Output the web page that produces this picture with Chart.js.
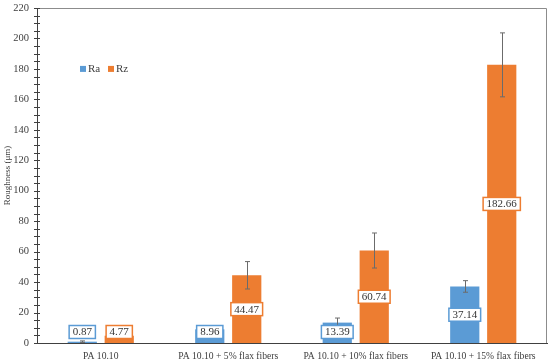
<!DOCTYPE html>
<html>
<head>
<meta charset="utf-8">
<script src="https://cdn.jsdelivr.net/npm/chart.js@4.4.0/dist/chart.umd.min.js"></script>
<style>
  html, body { margin: 0; padding: 0; background: #fff; }
  #wrap { width: 550px; height: 363px; }
</style>
</head>
<body>
<div id="wrap"><canvas id="chart"></canvas></div>
<script>
// data
var categories = ['PA 10.10', 'PA 10.10 + 5% flax fibers', 'PA 10.10 + 10% flax fibers', 'PA 10.10 + 15% flax fibers'];
var raValues = [0.87, 8.96, 13.39, 37.14];
var rzValues = [4.77, 44.47, 60.74, 182.66];
var raErrors = [0.5, 1.0, 3.0, 3.8];
var rzErrors = [0.6, 9.0, 11.5, 21.0];
var yTicks = [0, 20, 40, 60, 80, 100, 120, 140, 160, 180, 200, 220];

var blue = '#5B9BD5';
var orange = '#ED7D31';
var serif = "'Liberation Serif', 'DejaVu Serif', serif";

Chart.defaults.font.family = serif;
Chart.defaults.font.size = 10;
Chart.defaults.color = '#404040';

// error bars, value boxes, minor ticks, frame and legend
var extras = {
  id: 'extras',
  afterDatasetsDraw: function(chart) {
    var ctx = chart.ctx;
    var y = chart.scales.y;
    var area = chart.chartArea;
    var errs = [raErrors, rzErrors];
    var cols = [blue, orange];

    ctx.save();
    // frame top/right
    ctx.strokeStyle = '#8c8c8c';
    ctx.lineWidth = 1;
    ctx.beginPath();
    ctx.moveTo(area.left, area.top + 0.5);
    ctx.lineTo(area.right - 0.5, area.top + 0.5);
    ctx.lineTo(area.right - 0.5, area.bottom);
    ctx.stroke();

    // y ticks (cross the axis)
    ctx.strokeStyle = '#404040';
    for (var v = 0; v <= 220; v += 5) {
      var py = Math.round(y.getPixelForValue(v)) + 0.5;
      ctx.beginPath();
      ctx.moveTo(area.left - 3, py);
      ctx.lineTo(area.left + 3, py);
      ctx.stroke();
    }

    // error bars
    chart.data.datasets.forEach(function(ds, di) {
      var meta = chart.getDatasetMeta(di);
      meta.data.forEach(function(bar, i) {
        var val = ds.data[i];
        var e = errs[di][i];
        var top = y.getPixelForValue(val + e);
        var bot = y.getPixelForValue(val - e);
        var x = Math.round(bar.x) + 0.5;
        ctx.strokeStyle = '#6b6b6b';
        ctx.lineWidth = 1;
        ctx.beginPath();
        ctx.moveTo(x, top); ctx.lineTo(x, bot);
        ctx.moveTo(x - 2.5, top); ctx.lineTo(x + 2.5, top);
        ctx.moveTo(x - 2.5, bot); ctx.lineTo(x + 2.5, bot);
        ctx.stroke();
      });
    });

    // value boxes
    ctx.font = '11px ' + serif;
    ctx.textAlign = 'center';
    ctx.textBaseline = 'middle';
    chart.data.datasets.forEach(function(ds, di) {
      var meta = chart.getDatasetMeta(di);
      meta.data.forEach(function(bar, i) {
        var txt = ds.data[i].toFixed(2);
        var cy = Math.min((bar.y + bar.base) / 2, area.bottom - 11);
        var w = ctx.measureText(txt).width + 7;
        var h = 13;
        ctx.fillStyle = '#fff';
        ctx.fillRect(bar.x - w / 2, cy - h / 2, w, h);
        ctx.strokeStyle = cols[di];
        ctx.lineWidth = 1.5;
        ctx.strokeRect(bar.x - w / 2, cy - h / 2, w, h);
        ctx.fillStyle = '#333';
        ctx.fillText(txt, bar.x, cy + 0.5);
      });
    });

    // legend inside plot
    var lx = 80, ly = y.getPixelForValue(180);
    chart.data.datasets.forEach(function(ds, di) {
      var x0 = lx + di * 28;
      ctx.fillStyle = cols[di];
      ctx.fillRect(x0, ly - 3, 6, 6);
      ctx.fillStyle = '#404040';
      ctx.textAlign = 'left';
      ctx.fillText(ds.label, x0 + 8, ly + 0.5);
    });
    ctx.restore();
  }
};

new Chart(document.getElementById('chart'), {
  type: 'bar',
  data: {
    labels: categories,
    datasets: [
      { label: 'Ra', data: raValues, backgroundColor: blue, barPercentage: 0.79, categoryPercentage: 0.58 },
      { label: 'Rz', data: rzValues, backgroundColor: orange, barPercentage: 0.79, categoryPercentage: 0.58 }
    ]
  },
  options: {
    responsive: true,
    maintainAspectRatio: false,
    animation: false,
    layout: { padding: { top: 8, right: 3, left: 2, bottom: 0 } },
    plugins: {
      legend: { display: false },
      tooltip: { enabled: false }
    },
    scales: {
      x: {
        grid: { display: false, drawTicks: false },
        border: { display: true, color: '#404040', width: 1 },
        ticks: { color: '#404040', font: { size: 9.6 }, padding: 8, maxRotation: 0, autoSkip: false },
        afterFit: function(scale) { scale.height = 20; scale.paddingLeft = 0; scale.paddingRight = 0; }
      },
      y: {
        min: 0,
        max: 220,
        afterBuildTicks: function(scale) {
          scale.ticks = yTicks.map(function(v) { return { value: v }; });
        },
        grid: { display: false, drawTicks: false },
        border: { display: true, color: '#404040', width: 1 },
        ticks: { color: '#404040', font: { size: 10.5 }, padding: 8 },
        title: { display: true, text: 'Roughness (μm)', color: '#404040', font: { size: 9 }, padding: 0 },
        afterFit: function(scale) { scale.width = 35; scale.paddingTop = 0; scale.paddingBottom = 0; }
      }
    }
  },
  plugins: [extras]
});
</script>
</body>
</html>
